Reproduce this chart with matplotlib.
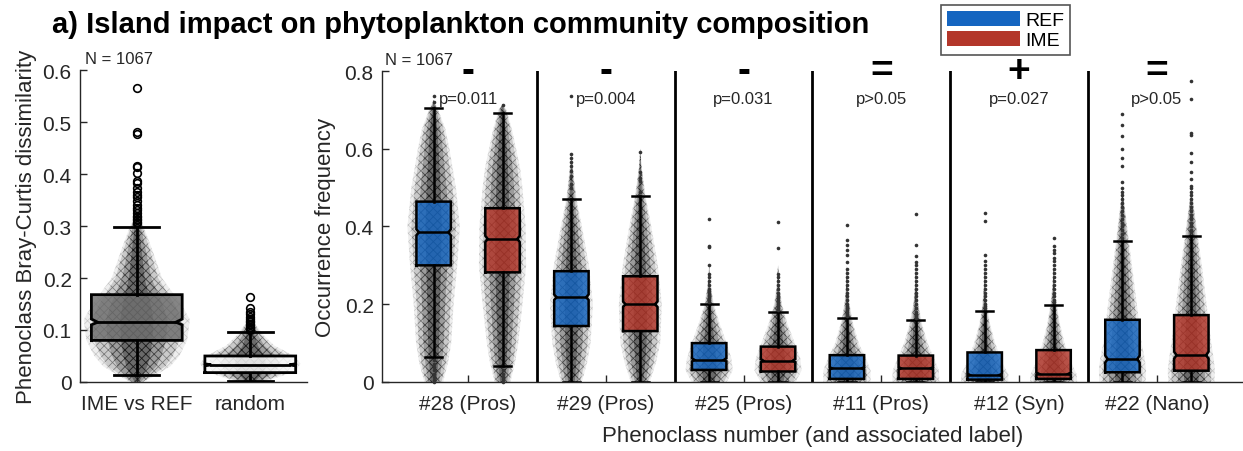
import matplotlib
matplotlib.use("Agg")
import matplotlib.pyplot as plt
from matplotlib.patches import Patch

plt.rcParams['font.family'] = ['Liberation Sans', 'DejaVu Sans']
plt.rcParams['hatch.linewidth'] = 0.5

# ---------------- left panel: Bray-Curtis dissimilarity ----------------
bc_labels = ["IME vs REF", "random"]
bc_whislo = [0.014, 0.002]
bc_q1 = [0.080, 0.018]
bc_med = [0.115, 0.033]
bc_cilo = [0.110, 0.031]
bc_cihi = [0.121, 0.035]
bc_q3 = [0.168, 0.050]
bc_whishi = [0.298, 0.096]
bc_fliers = [
    [0.305, 0.308, 0.311, 0.314, 0.317, 0.32, 0.325, 0.33, 0.335, 0.34, 0.348,
     0.355, 0.36, 0.365, 0.374, 0.383, 0.386, 0.403, 0.413, 0.416, 0.478, 0.481, 0.565],
    [0.1, 0.103, 0.106, 0.109, 0.112, 0.115, 0.118, 0.121, 0.125, 0.13, 0.135, 0.142, 0.163],
]
# point-cloud outline: value levels and relative spread
bc_cloud_y = [
    [0, 0.01, 0.03, 0.05, 0.08, 0.12, 0.15, 0.2, 0.25, 0.3, 0.32],
    [0, 0.005, 0.02, 0.035, 0.05, 0.07, 0.09, 0.11, 0.12],
]
bc_cloud_w = [
    [0.12, 0.29, 0.6, 0.76, 0.9, 0.95, 0.79, 0.45, 0.29, 0.12, 0],
    [0.24, 0.38, 0.79, 0.9, 0.79, 0.43, 0.24, 0.1, 0],
]
bc_colors = ["#6e6e6e", "white"]

# ---------------- right panel: occurrence frequency ----------------
classes = ["#28 (Pros)", "#29 (Pros)", "#25 (Pros)", "#11 (Pros)", "#12 (Syn)", "#22 (Nano)"]
signs = ["-", "-", "-", "=", "+", "="]
pvals = ["p=0.011", "p=0.004", "p=0.031", "p>0.05", "p=0.027", "p>0.05"]
groups = ["REF", "IME"]

# 12 boxes: REF, IME for each class in order
occ_whislo = [0.064, 0.040, 0, 0, 0, 0, 0, 0, 0, 0, 0, 0]
occ_q1 = [0.300, 0.282, 0.144, 0.131, 0.031, 0.027, 0.008, 0.008, 0.006, 0.008, 0.025, 0.029]
occ_med = [0.385, 0.368, 0.218, 0.200, 0.057, 0.055, 0.035, 0.035, 0.018, 0.021, 0.059, 0.069]
occ_cilo = [0.377, 0.360, 0.211, 0.193, 0.053, 0.051, 0.032, 0.032, 0.015, 0.018, 0.050, 0.060]
occ_cihi = [0.393, 0.376, 0.225, 0.207, 0.061, 0.059, 0.038, 0.038, 0.021, 0.024, 0.068, 0.078]
occ_q3 = [0.464, 0.447, 0.285, 0.272, 0.100, 0.091, 0.069, 0.068, 0.076, 0.082, 0.160, 0.172]
occ_whishi = [0.704, 0.691, 0.470, 0.479, 0.200, 0.179, 0.164, 0.159, 0.182, 0.198, 0.362, 0.376]
occ_fliers = [
    [0.0, 0.004, 0.013, 0.021, 0.03, 0.038, 0.047, 0.056, 0.72, 0.735],
    [0.0, 0.007, 0.013, 0.021, 0.03, 0.712],
    [0.5, 0.509, 0.53, 0.543, 0.556, 0.565, 0.577, 0.586, 0.735],
    [0.488, 0.518, 0.525, 0.539, 0.592],
    [0.205, 0.21, 0.215, 0.22, 0.225, 0.23, 0.235, 0.24, 0.25, 0.26, 0.27, 0.278,
     0.30, 0.347, 0.35, 0.419],
    [0.185, 0.19, 0.195, 0.2, 0.205, 0.21, 0.215, 0.22, 0.23, 0.24, 0.25, 0.26,
     0.27, 0.277, 0.345, 0.412],
    [0.17, 0.175, 0.18, 0.185, 0.19, 0.195, 0.2, 0.21, 0.22, 0.23, 0.24, 0.25, 0.26,
     0.27, 0.28, 0.29, 0.308, 0.326, 0.34, 0.352, 0.366, 0.404],
    [0.165, 0.17, 0.175, 0.18, 0.19, 0.2, 0.21, 0.22, 0.23, 0.24, 0.25, 0.26, 0.27,
     0.28, 0.29, 0.3, 0.308, 0.325, 0.352, 0.432],
    [0.19, 0.195, 0.2, 0.21, 0.22, 0.23, 0.24, 0.25, 0.26, 0.27, 0.28, 0.29, 0.3,
     0.31, 0.327, 0.413, 0.434],
    [0.205, 0.21, 0.22, 0.23, 0.24, 0.25, 0.26, 0.27, 0.28, 0.29, 0.3, 0.31, 0.32,
     0.333, 0.34, 0.35, 0.37],
    [0.37, 0.38, 0.39, 0.4, 0.41, 0.42, 0.43, 0.44, 0.45, 0.46, 0.47, 0.48, 0.49,
     0.5, 0.515, 0.556, 0.577, 0.599, 0.633, 0.661, 0.689],
    [0.385, 0.39, 0.4, 0.41, 0.42, 0.43, 0.44, 0.45, 0.46, 0.47, 0.48, 0.49, 0.5,
     0.505, 0.522, 0.54, 0.565, 0.59, 0.635, 0.64, 0.728, 0.774],
]
occ_cloud_y = [
    [0, 0.05, 0.1, 0.2, 0.3, 0.4, 0.5, 0.6, 0.65, 0.7, 0.725],
    [0, 0.05, 0.1, 0.2, 0.3, 0.4, 0.5, 0.55, 0.65, 0.7, 0.715],
    [0, 0.05, 0.1, 0.2, 0.3, 0.4, 0.47, 0.55, 0.59],
    [0, 0.05, 0.1, 0.2, 0.3, 0.4, 0.48, 0.55, 0.6],
    [0, 0.03, 0.06, 0.1, 0.15, 0.2, 0.25, 0.3],
    [0, 0.03, 0.06, 0.1, 0.15, 0.2, 0.25, 0.3],
    [0, 0.03, 0.06, 0.1, 0.15, 0.2, 0.25, 0.3],
    [0, 0.03, 0.06, 0.1, 0.15, 0.2, 0.25, 0.3],
    [0, 0.02, 0.05, 0.1, 0.15, 0.2, 0.25, 0.3],
    [0, 0.02, 0.05, 0.1, 0.15, 0.2, 0.25, 0.3],
    [0, 0.03, 0.06, 0.1, 0.15, 0.2, 0.3, 0.4, 0.45, 0.5],
    [0, 0.03, 0.06, 0.1, 0.15, 0.2, 0.3, 0.4, 0.45, 0.5],
]
occ_cloud_w = [
    [0.36, 0.55, 0.67, 0.76, 0.9, 1.0, 0.85, 0.6, 0.45, 0.18, 0],
    [0.3, 0.48, 0.6, 0.76, 0.9, 0.88, 0.76, 0.67, 0.36, 0.15, 0],
    [0.4, 0.6, 0.73, 0.82, 0.67, 0.4, 0.2, 0.06, 0],
    [0.36, 0.6, 0.76, 0.82, 0.67, 0.42, 0.2, 0.06, 0],
    [0.67, 0.9, 0.85, 0.67, 0.4, 0.18, 0.06, 0],
    [0.67, 0.9, 0.85, 0.64, 0.36, 0.15, 0.05, 0],
    [0.9, 0.9, 0.73, 0.45, 0.24, 0.1, 0.03, 0],
    [0.9, 0.88, 0.7, 0.45, 0.24, 0.1, 0.03, 0],
    [0.9, 0.9, 0.67, 0.4, 0.2, 0.09, 0.03, 0],
    [0.9, 0.88, 0.67, 0.42, 0.24, 0.12, 0.04, 0],
    [0.88, 0.9, 0.85, 0.73, 0.64, 0.55, 0.36, 0.18, 0.09, 0],
    [0.88, 0.9, 0.85, 0.76, 0.67, 0.58, 0.4, 0.2, 0.1, 0],
]
n_obs = 1067

BLUE = "#1565c0"
RED = "#b3362a"
AX_COL = "#262626"

# cloud layers: (fraction of spread, face rgba, hatch rgba)
CLOUD_LAYERS = [
    (1.12, (0.55, 0.55, 0.55, 0.14), (0.3, 0.3, 0.3, 0.25)),
    (0.95, (0.40, 0.40, 0.40, 0.26), (0.15, 0.15, 0.15, 0.40)),
    (0.65, (0.20, 0.20, 0.20, 0.30), (0.05, 0.05, 0.05, 0.40)),
    (0.35, (0.05, 0.05, 0.05, 0.35), (0.0, 0.0, 0.0, 0.40)),
]


def draw_cloud(ax, pos, ys, rel, spread):
    for frac, face, hatch_col in CLOUD_LAYERS:
        left = [pos - frac * spread * r for r in rel]
        right = [pos + frac * spread * r for r in rel]
        ax.fill_betweenx(ys, left, right, facecolor=face, edgecolor=hatch_col,
                         hatch="xxxx", linewidth=0, zorder=2)


def draw_box(ax, pos, width, lo, q1, cilo, med, cihi, q3, hi, color, lw):
    xl, xr = pos - width / 2, pos + width / 2
    d = width * 0.07
    xs = [xl, xr, xr, xr - d, xr, xr, xl, xl, xl + d, xl, xl]
    ys = [q1, q1, cilo, med, cihi, q3, q3, cihi, med, cilo, q1]
    ax.fill(xs, ys, facecolor=color, edgecolor="none", alpha=0.82, zorder=3)
    ax.plot(xs, ys, color="black", lw=lw, zorder=4, solid_joinstyle="miter")
    ax.plot([xl + d, xr - d], [med, med], color="black", lw=lw, zorder=4)
    ax.plot([pos, pos], [q3, hi], color="black", lw=lw, zorder=4)
    ax.plot([pos, pos], [lo, q1], color="black", lw=lw, zorder=4)
    ax.plot([pos - width / 4, pos + width / 4], [hi, hi], color="black", lw=lw, zorder=4)
    ax.plot([pos - width / 4, pos + width / 4], [lo, lo], color="black", lw=lw, zorder=4)


def style_axes(ax):
    for s in ["top", "right"]:
        ax.spines[s].set_visible(False)
    for s in ["left", "bottom"]:
        ax.spines[s].set_color(AX_COL)
        ax.spines[s].set_linewidth(1.0)
    ax.tick_params(direction="in", length=5, width=1, color=AX_COL,
                   labelcolor=AX_COL, labelsize=15)
    ax.tick_params(axis="x", pad=9)
    ax.tick_params(axis="y", pad=6)


fig = plt.figure(figsize=(12.43, 4.52), dpi=100)

# ---------- left panel ----------
ax1 = fig.add_axes([0.0644, 0.1527, 0.1826, 0.690])
for i in range(2):
    pos = i + 1
    draw_box(ax1, pos, 0.8, bc_whislo[i], bc_q1[i], bc_cilo[i], bc_med[i],
             bc_cihi[i], bc_q3[i], bc_whishi[i], bc_colors[i], 2.0)
    draw_cloud(ax1, pos, bc_cloud_y[i], bc_cloud_w[i], 0.44)
    ax1.plot([pos] * len(bc_fliers[i]), bc_fliers[i], "o", mfc="none", mec="black",
             ms=5.5, mew=1.2, zorder=5, clip_on=False)
ax1.set_xlim(0.5, 2.5)
ax1.set_ylim(0, 0.6)
ax1.set_xticks([1, 2])
ax1.set_xticklabels(bc_labels)
ax1.set_yticks([0, 0.1, 0.2, 0.3, 0.4, 0.5, 0.6])
ax1.set_yticklabels(["0", "0.1", "0.2", "0.3", "0.4", "0.5", "0.6"])
style_axes(ax1)
ax1.set_ylabel("Phenoclass Bray-Curtis dissimilarity", fontsize=16, color=AX_COL)
ax1.yaxis.set_label_coords(-0.19, 0.5)
ax1.text(0.022, 1.022, f"N = {n_obs}", transform=ax1.transAxes, fontsize=12,
         color=AX_COL, va="baseline", ha="left")

# ---------- right panel ----------
ax2 = fig.add_axes([0.3073, 0.1527, 0.6927, 0.688])
for k in range(12):
    pos = k + 1
    color = BLUE if k % 2 == 0 else RED
    draw_box(ax2, pos, 0.5, occ_whislo[k], occ_q1[k], occ_cilo[k], occ_med[k],
             occ_cihi[k], occ_q3[k], occ_whishi[k], color, 1.8)
    draw_cloud(ax2, pos, occ_cloud_y[k], occ_cloud_w[k], 0.34)
    ax2.plot([pos] * len(occ_fliers[k]), occ_fliers[k], "o", color="#333333",
             ms=2.6, mew=0, zorder=5, clip_on=False)

for j in range(len(classes) - 1):
    ax2.axvline(2 * j + 2.5, ymin=0, ymax=1, color="black", lw=2, zorder=1)

for j in range(len(classes)):
    cx = 2 * j + 1.5
    ax2.text(cx, 0.773, signs[j], fontsize=28, fontweight="bold", ha="center",
             va="baseline", color="black")
    ax2.text(cx, 0.728, pvals[j], fontsize=12, ha="center", va="center", color=AX_COL)

ax2.set_xlim(0.25, 12.75)
ax2.set_ylim(0, 0.8)
ax2.set_xticks([2 * j + 1.5 for j in range(len(classes))])
ax2.set_xticklabels(classes)
ax2.set_yticks([0, 0.2, 0.4, 0.6, 0.8])
ax2.set_yticklabels(["0", "0.2", "0.4", "0.6", "0.8"])
style_axes(ax2)
ax2.set_ylabel("Occurrence frequency", fontsize=16, color=AX_COL)
ax2.yaxis.set_label_coords(-0.053, 0.5)
ax2.set_xlabel("Phenoclass number (and associated label)", fontsize=16, color=AX_COL,
               labelpad=8)
ax2.text(0.004, 1.022, f"N = {n_obs}", transform=ax2.transAxes, fontsize=12,
         color=AX_COL, va="baseline", ha="left")

fig.text(52 / 1243, 1 - 33 / 452, "a) Island impact on phytoplankton community composition",
         fontsize=21, fontweight="bold", va="baseline", ha="left")

handles = [Patch(facecolor=BLUE, edgecolor="none"), Patch(facecolor=RED, edgecolor="none")]
leg = fig.legend(handles, groups, loc="upper left", bbox_to_anchor=(941 / 1243, 1 - 6 / 452),
                 bbox_transform=fig.transFigure, frameon=True, fancybox=False,
                 edgecolor="#555555", framealpha=1, fontsize=14, handlelength=3.75,
                 handleheight=0.82, labelspacing=0.1, borderpad=0.3, handletextpad=0.3,
                 borderaxespad=0)
leg.get_frame().set_linewidth(1.2)

fig.savefig("out.png", dpi=100)
